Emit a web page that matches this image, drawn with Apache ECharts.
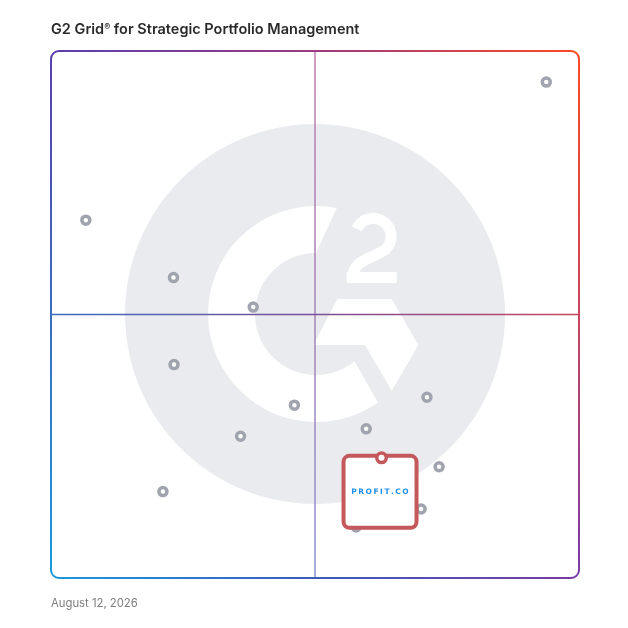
<!DOCTYPE html>
<html>
<head>
<meta charset="utf-8">
<script src="https://cdn.jsdelivr.net/npm/echarts@6/dist/echarts.min.js"></script>
<style>html,body{margin:0;padding:0;background:#fff;}#c{width:628px;height:628px;}</style>
</head>
<body>
<div id="c"></div>
<script>
// ---- data (market presence / satisfaction scores, 0-100) ----
const productNames = ['P1','P2','P3','P4','P5','P6','P7','P8','P9','P10','P11','P12','P13'];
const productX = [93.8, 6.6, 23.2, 38.3, 23.3, 46.1, 35.9, 71.2, 59.7, 73.5, 21.2, 70.1, 57.8];
const productY = [94.1, 67.9, 57.0, 51.4, 40.5, 32.8, 26.9, 34.3, 28.3, 21.1, 16.4, 13.1, 9.7];
const highlightName = 'PROFIT.CO';
const highlightX = [62.6];
const highlightY = [22.8];
const titleText = 'G2 Grid{r|®} for Strategic Portfolio Management';
const dateText = 'August 12, 2026';

// ---- layout ----
const GL = 51, GT = 51, GW = 528, GH = 527;
const CX = GL + GW / 2, CY = GT + GH / 2;
const R = 8;

const G = echarts.graphic;
function regPath(name, d) {
  G.registerShape(name, G.extendPath(d, {}));
}
regPath('g2C', 'M336.8 208 A108 108 0 1 0 378.1 402.4 L354.5 361.3 A61 61 0 1 1 316 253 Z');
regPath('g2Two', 'M356.7 228.9 A18 18 0 1 1 385.7 249.2 C373 259 353 259 352.5 278');
regPath('bTop', `M${GL} ${GT+R} A${R} ${R} 0 0 1 ${GL+R} ${GT} L${GL+GW-R} ${GT} A${R} ${R} 0 0 1 ${GL+GW} ${GT+R}`);
regPath('bBottom', `M${GL} ${GT+GH-R} A${R} ${R} 0 0 0 ${GL+R} ${GT+GH} L${GL+GW-R} ${GT+GH} A${R} ${R} 0 0 0 ${GL+GW} ${GT+GH-R}`);

const chart = echarts.init(document.getElementById('c'), null, {renderer: 'canvas'});
const lg = (x2, y2, stops) => new G.LinearGradient(0, 0, x2, y2, stops.map((c, i) => ({offset: i / (stops.length - 1), color: c})));

const cTL = '#5a3fae', cTR = '#ff4a22', cBL = '#1a9ade', cBR = '#7a3aa8';

const graphics = [
  // G2 watermark
  {type: 'circle', shape: {cx: 315, cy: 314, r: 190}, style: {fill: '#e9ebee'}, silent: true, z: 0},
  {type: 'g2C', style: {fill: '#fff'}, silent: true, z: 1},
  {type: 'polygon', shape: {points: [[337.3,299],[391.7,299],[418.3,345],[391.7,390.7],[365,345],[313.3,345]]}, style: {fill: '#fff'}, silent: true, z: 1},
  {type: 'rect', shape: {x: 346.7, y: 272, width: 50, height: 11}, style: {fill: '#fff'}, silent: true, z: 1},
  {type: 'g2Two', style: {fill: null, stroke: '#fff', lineWidth: 11}, silent: true, z: 1},
  // quadrant lines
  {type: 'line', shape: {x1: CX, y1: GT, x2: CX, y2: GT + GH}, style: {stroke: lg(0, 1, ['#c07ab2', '#a683b8', '#8a90d2']), lineWidth: 1.5}, silent: true, z: 2},
  {type: 'line', shape: {x1: GL, y1: CY, x2: GL + GW, y2: CY}, style: {stroke: lg(1, 0, ['#3a6cc0', '#7a4f98', '#c8455e']), lineWidth: 1.5}, silent: true, z: 2},
  // border sides
  {type: 'bTop', style: {fill: null, stroke: lg(1, 0, [cTL, '#9a3a80', cTR]), lineWidth: 2}, silent: true, z: 3},
  {type: 'bBottom', style: {fill: null, stroke: lg(1, 0, [cBL, '#3a5cb8', cBR]), lineWidth: 2}, silent: true, z: 3},
  {type: 'line', shape: {x1: GL, y1: GT + R, x2: GL, y2: GT + GH - R}, style: {stroke: lg(0, 1, [cTL, '#3a6cc0', cBL]), lineWidth: 2}, silent: true, z: 3},
  {type: 'line', shape: {x1: GL + GW, y1: GT + R, x2: GL + GW, y2: GT + GH - R}, style: {stroke: lg(0, 1, [cTR, '#c8455e', cBR]), lineWidth: 2}, silent: true, z: 3},
  // date
  {type: 'text', left: 51, top: 598, style: {text: dateText, fill: '#7d7d7d', font: '11.3px Inter'}, silent: true}
];

const option = {
  animation: false,
  backgroundColor: '#fff',
  title: {
    text: titleText, left: 51, top: 22, padding: 0,
    textStyle: {fontFamily: 'Inter', fontSize: 14.5, fontWeight: 600, color: '#2a2a2a',
      rich: {r: {fontFamily: 'Inter', fontSize: 9, fontWeight: 600, color: '#2a2a2a', padding: [0, 0, 4, 0]}}}
  },
  grid: {left: GL, top: GT, width: GW, height: GH},
  xAxis: {type: 'value', min: 0, max: 100, show: false},
  yAxis: {type: 'value', min: 0, max: 100, show: false},
  graphic: graphics,
  series: [
    {
      name: 'Products', type: 'scatter', z: 5,
      data: productX.map((x, i) => ({name: productNames[i], value: [x, productY[i]]})),
      symbol: 'circle', symbolSize: 8,
      itemStyle: {color: '#fff', borderColor: '#a0a4ae', borderWidth: 3.5, opacity: 1}
    },
    {
      name: 'Highlight box', type: 'scatter', z: 6,
      data: highlightX.map((x, i) => ({name: highlightName, value: [x, highlightY[i]]})),
      symbolSize: 1, itemStyle: {color: 'rgba(0,0,0,0)', opacity: 1},
      label: {
        show: true, position: 'inside', offset: [-1.5, 34],
        formatter: () => highlightName.split('').join('\u2009'),
        width: 69, height: 68, lineHeight: 68, align: 'center', verticalAlign: 'middle',
        backgroundColor: '#fff', borderColor: '#c4585c', borderWidth: 4, borderRadius: 4,
        color: '#1e8fec', fontSize: 7.5, fontWeight: 'bold', fontFamily: 'DejaVu Sans'
      }
    },
    {
      name: highlightName, type: 'scatter', z: 7,
      data: highlightX.map((x, i) => [x, highlightY[i]]),
      symbol: 'circle', symbolSize: 9.5,
      itemStyle: {color: '#fff', borderColor: '#c4585c', borderWidth: 3.5, opacity: 1}
    }
  ]
};
chart.setOption(option);
</script>
</body>
</html>
